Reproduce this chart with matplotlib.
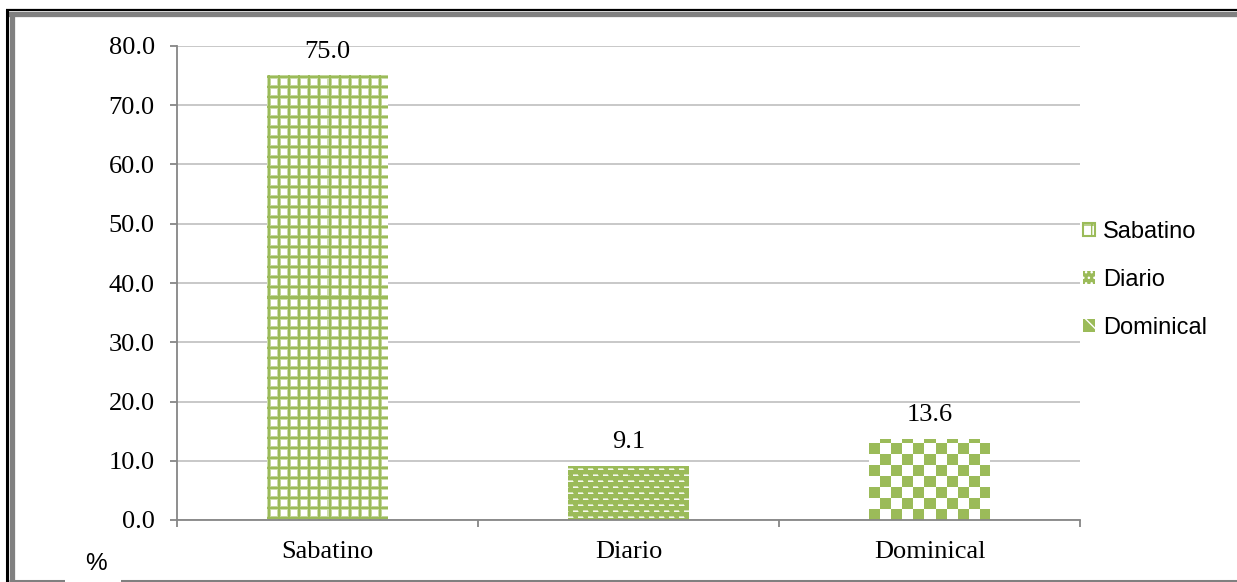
import numpy as np
import matplotlib
matplotlib.use('Agg')
import matplotlib.pyplot as plt
from matplotlib.patches import Patch
from matplotlib.lines import Line2D

categories = ['Sabatino', 'Diario', 'Dominical']
values = [75.0, 9.1, 13.6]
yticks = [0, 10, 20, 30, 40, 50, 60, 70, 80]
patterns = ['grid', 'dash', 'checker']

GREEN = np.array([0x9b, 0xbb, 0x59]) / 255.0
WHITE = np.array([1.0, 1.0, 1.0])


def make_pattern(kind, h, w):
    # pixel pattern, alpha = amount of green
    yy, xx = np.mgrid[0:h, 0:w]
    if kind == 'grid':
        prof = np.array([0.5, 1, 1, 0.6, 0, 0, 0, 0, 0, 0])
        a = np.maximum(prof[xx % 10], prof[yy % 10])
    elif kind == 'dash':
        row = yy % 6
        shift = np.where((yy // 6) % 2 == 0, 0, 5)
        col = (xx + shift) % 10
        white = np.zeros((h, w))
        white[(row == 2) & (col < 5)] = 0.9
        white[(row == 3) & (col < 5)] = 0.55
        white[(row == 2) & (col == 5)] = 0.4
        a = 1 - white
    else:
        a = (((xx // 11) + (yy // 11)) % 2 == 0).astype(float)
    img = WHITE * (1 - a[..., None]) + GREEN * a[..., None]
    return img


def fill_bar(ax, bar, kind):
    x0, y0 = bar.get_x(), bar.get_y()
    x1, y1 = x0 + bar.get_width(), y0 + bar.get_height()
    (px0, py0), (px1, py1) = ax.transData.transform([(x0, y0), (x1, y1)])
    w = max(int(round(px1 - px0)), 1)
    h = max(int(round(py1 - py0)), 1)
    img = make_pattern(kind, h, w)
    ax.imshow(img, extent=(x0, x1, y0, y1), origin='lower', interpolation='nearest',
              aspect='auto', zorder=2, clip_path=bar)


fig = plt.figure(figsize=(12.37, 5.82), dpi=100)
ax = fig.add_axes([177 / 1237, 1 - 520 / 582, (1080 - 177) / 1237, (520 - 46) / 582])

x = np.arange(len(categories))
bars = ax.bar(x, values, width=0.4, facecolor='none', edgecolor='none', zorder=2)
ax.set_xlim(-0.5, len(categories) - 0.5)
ax.set_ylim(0, 80)
ax.set_autoscale_on(False)

for b, k in zip(bars, patterns):
    fill_bar(ax, b, k)
ax.set_xlim(-0.5, len(categories) - 0.5)
ax.set_ylim(0, 80)

serif = 'Liberation Serif'
for xi, v in zip(x, values):
    ax.annotate('{:.1f}'.format(v), (xi, v), xytext=(0, 13), textcoords='offset points',
                ha='center', va='baseline', fontsize=19, family=serif, color='black')

ax.set_yticks(yticks)
ax.set_yticklabels(['{:.1f}'.format(t) for t in yticks], family=serif, fontsize=19)
ax.set_xticks(x)
ax.set_xticklabels(categories, family=serif, fontsize=19)
ax.set_xticks(np.arange(len(categories) + 1) - 0.5, minor=True)
ax.tick_params(axis='x', which='major', length=0, pad=15)
ax.tick_params(axis='x', which='minor', length=5, width=1.3, color='#868686')
ax.tick_params(axis='y', length=5, width=1.3, color='#868686', pad=11)

ax.yaxis.grid(True, color='#bfbfbf', linewidth=1.2, zorder=0)
ax.set_axisbelow(True)
for s in ['top', 'right']:
    ax.spines[s].set_visible(False)
for s in ['left', 'bottom']:
    ax.spines[s].set_color('#868686')
    ax.spines[s].set_linewidth(1.3)

# legend
handles = [
    Patch(facecolor='white', edgecolor=GREEN, hatch='+', linewidth=1.5),
    Patch(facecolor=GREEN, edgecolor='white', hatch='...', linewidth=0),
    Patch(facecolor=GREEN, edgecolor='white', hatch='\\', linewidth=0),
]
fig.legend(handles, categories, loc='center left', bbox_to_anchor=(1083 / 1237, 1 - 280 / 582),
           frameon=False, borderpad=0, borderaxespad=0, handlelength=0.5, handleheight=0.5,
           handletextpad=0.35, labelspacing=1.1,
           prop={'family': 'Liberation Sans', 'size': 17})

# page frame
W, H = 1237.0, 582.0
kw = dict(solid_capstyle='butt')
fig.add_artist(Line2D([6 / W, 1], [1 - 10 / H, 1 - 10 / H], color='black', lw=1.6, **kw))
fig.add_artist(Line2D([6 / W, 1], [1 - 14 / H, 1 - 14 / H], color='#808080', lw=3.8, **kw))
fig.add_artist(Line2D([7.5 / W, 7.5 / W], [0, 1 - 9 / H], color='black', lw=2.2, **kw))
fig.add_artist(Line2D([11.5 / W, 11.5 / W], [0, 1 - 12 / H], color='#808080', lw=3.8, **kw))
fig.add_artist(Line2D([9 / W, 1], [1 - 580.5 / H, 1 - 580.5 / H], color='#808080', lw=2.2, **kw))
fig.patches.append(plt.Rectangle((65 / W, 0), 56 / W, 4 / H, transform=fig.transFigure,
                                 facecolor='white', edgecolor='none', zorder=5))
fig.text(95.5 / W, 1 - 564 / H, '%', ha='center', va='center', fontsize=17.5,
         family='Liberation Sans')

fig.savefig('out.png', dpi=100)
